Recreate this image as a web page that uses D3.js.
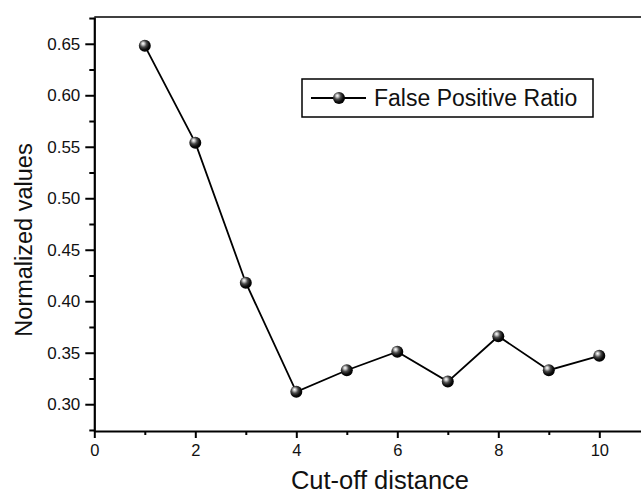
<!DOCTYPE html>
<html>
<head>
<meta charset="utf-8">
<script src="https://cdn.jsdelivr.net/npm/d3@7"></script>
<style>
  body { margin: 0; background: #fff; }
  svg { display: block; font-family: Arial, "Liberation Sans", sans-serif; }
  .axis path, .axis line { stroke: #000; }
  .axis text { fill: #111; }
</style>
</head>
<body>
<div id="chart"></div>
<script>
// data
var distances = [1, 2, 3, 4, 5, 6, 7, 8, 9, 10];
var fpRatio   = [0.648, 0.554, 0.418, 0.312, 0.333, 0.351, 0.322, 0.366, 0.333, 0.347];
var xTicks    = [0, 2, 4, 6, 8, 10];
var yTicks    = [0.30, 0.35, 0.40, 0.45, 0.50, 0.55, 0.60, 0.65];
var seriesName = "False Positive Ratio";

var W = 641, H = 493;
var margin = {top: 17, left: 94.3, bottom: 62};

var svg = d3.select("#chart").append("svg")
    .attr("width", W)
    .attr("height", H);

// sphere look for the markers
var grad = svg.append("defs").append("radialGradient")
    .attr("id", "ball")
    .attr("cx", "40%").attr("cy", "38%").attr("r", "62%")
    .attr("fx", "35%").attr("fy", "30%");
grad.append("stop").attr("offset", "0%").attr("stop-color", "#ffffff");
grad.append("stop").attr("offset", "18%").attr("stop-color", "#c8c8c8");
grad.append("stop").attr("offset", "45%").attr("stop-color", "#4a4a4a");
grad.append("stop").attr("offset", "75%").attr("stop-color", "#0d0d0d");
grad.append("stop").attr("offset", "100%").attr("stop-color", "#000");

// scales (plot runs past the right edge of the picture)
var xScale = d3.scaleLinear().domain([0, 11]).range([margin.left, margin.left + 11 * 50.5]);
var yScale = d3.scaleLinear().domain([0.274, 0.676]).range([H - margin.bottom, margin.top]);

// minor ticks first
var xMinor = d3.range(1, 11, 2);
var yMinor = d3.range(0.275, 0.68, 0.05);

svg.append("g")
    .attr("class", "axis")
    .attr("transform", "translate(0," + yScale.range()[0] + ")")
    .call(d3.axisBottom(xScale).tickValues(xMinor).tickSize(4).tickFormat(""))
    .call(function (g) { g.select(".domain").remove(); })
    .selectAll("line").attr("stroke-width", 2);

svg.append("g")
    .attr("class", "axis")
    .attr("transform", "translate(" + margin.left + ",0)")
    .call(d3.axisLeft(yScale).tickValues(yMinor).tickSize(5).tickFormat(""))
    .call(function (g) { g.select(".domain").remove(); })
    .selectAll("line").attr("stroke-width", 2);

// major axes
var xAxisEl = svg.append("g")
    .attr("class", "axis")
    .attr("transform", "translate(0," + yScale.range()[0] + ")")
    .call(d3.axisBottom(xScale).tickValues(xTicks).tickSize(7).tickSizeOuter(0).tickPadding(6).tickFormat(d3.format("d")));
xAxisEl.select(".domain").attr("stroke-width", 2.2);
xAxisEl.selectAll("line").attr("stroke-width", 2);
xAxisEl.selectAll("text").style("font-size", "16.5px");

var yAxisEl = svg.append("g")
    .attr("class", "axis")
    .attr("transform", "translate(" + margin.left + ",0)")
    .call(d3.axisLeft(yScale).tickValues(yTicks).tickSize(9).tickSizeOuter(0).tickPadding(5).tickFormat(d3.format(".2f")));
yAxisEl.select(".domain").attr("stroke-width", 2.2);
yAxisEl.selectAll("line").attr("stroke-width", 2);
yAxisEl.selectAll("text").style("font-size", "17px");

// top frame line
svg.append("line")
    .attr("x1", margin.left).attr("x2", xScale.range()[1])
    .attr("y1", yScale.range()[1]).attr("y2", yScale.range()[1])
    .attr("stroke", "#000").attr("stroke-width", 1.6);

// axis titles
svg.append("text")
    .attr("x", 380).attr("y", 489)
    .attr("text-anchor", "middle")
    .style("font-size", "25.5px")
    .attr("fill", "#111")
    .text("Cut-off distance");

svg.append("text")
    .attr("transform", "translate(32,240) rotate(-90)")
    .attr("text-anchor", "middle")
    .style("font-size", "23.5px")
    .attr("fill", "#111")
    .text("Normalized values");

// series
var points = distances.map(function (d, i) { return {x: d, y: fpRatio[i]}; });

svg.append("path")
    .datum(points)
    .attr("fill", "none")
    .attr("stroke", "#000")
    .attr("stroke-width", 1.8)
    .attr("d", d3.line()
      .x(function (d) { return xScale(d.x); })
      .y(function (d) { return yScale(d.y); }));

svg.append("g").selectAll("circle")
    .data(points)
    .enter()
    .append("circle")
    .attr("cx", function (d) { return xScale(d.x); })
    .attr("cy", function (d) { return yScale(d.y); })
    .attr("r", 6)
    .attr("fill", "url(#ball)");

// legend
var legend = svg.append("g").attr("transform", "translate(302,79)");
legend.append("rect")
    .attr("width", 291).attr("height", 38)
    .attr("fill", "#fff").attr("stroke", "#000").attr("stroke-width", 1.5);
legend.append("line")
    .attr("x1", 9).attr("x2", 64).attr("y1", 19).attr("y2", 19)
    .attr("stroke", "#000").attr("stroke-width", 1.8);
legend.append("circle")
    .attr("cx", 37).attr("cy", 19).attr("r", 6)
    .attr("fill", "url(#ball)");
legend.append("text")
    .attr("x", 72).attr("y", 27)
    .style("font-size", "23px")
    .attr("fill", "#111")
    .text(seriesName);
</script>
</body>
</html>
